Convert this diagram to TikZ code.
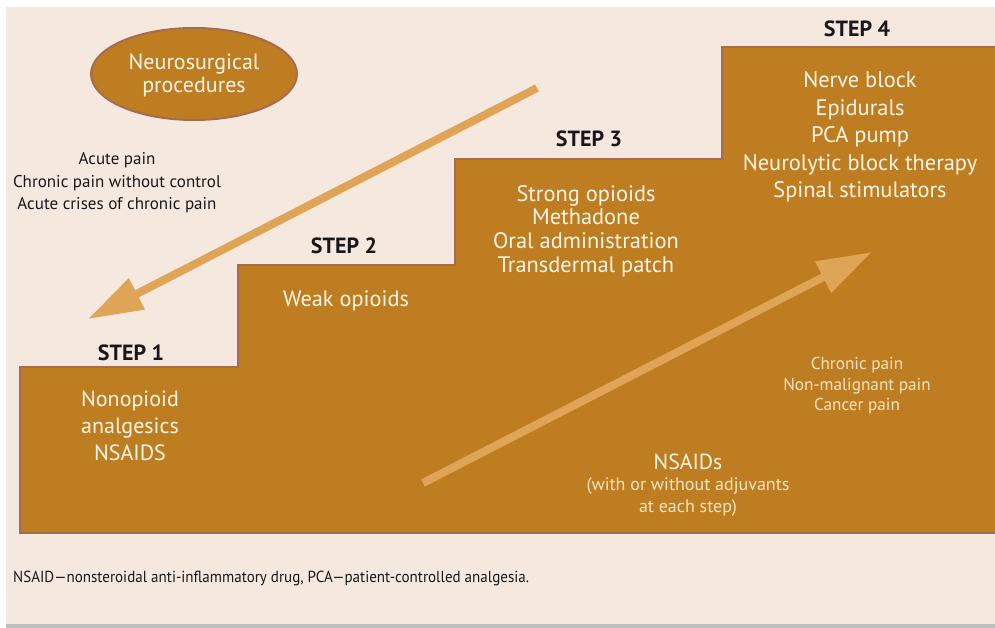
\documentclass[tikz,border=0pt]{standalone}
\usepackage{fontspec}
\setmainfont{PT Sans}
\newfontfamily\footfont[FakeStretch=0.94]{PT Sans}
\usetikzlibrary{arrows.meta,shapes.geometric}
\definecolor{bgcream}{RGB}{245,232,223}
\definecolor{stairbrown}{RGB}{190,125,32}
\definecolor{edgebrown}{RGB}{166,108,82}
\definecolor{arrowor}{RGB}{224,164,86}
\definecolor{lighttxt}{RGB}{253,246,232}
\definecolor{softtxt}{RGB}{247,228,196}
\definecolor{darktxt}{RGB}{24,24,28}
\tikzset{
  x=1pt, y=-1pt,
  boxtxt/.style={text=lighttxt, align=center, inner sep=0pt},
  steplabel/.style={text=darktxt, font=\bfseries\fontsize{22}{24}\selectfont, inner sep=0pt},
  darknote/.style={text=darktxt, align=center, inner sep=0pt, font=\fontsize{17}{22.5}\selectfont},
  bigarrow/.style={draw=arrowor, line width=8pt, -{Triangle[length=55pt,width=33pt]}},
}
\begin{document}
\begin{tikzpicture}
\useasboundingbox (0,0) rectangle (995,628);
\fill[white] (0,0) rectangle (995,628);
\fill[bgcream] (6,7) rectangle (995,624);
\fill[black!25] (6,624) rectangle (995,628);
% staircase
\draw[fill=stairbrown, draw=edgebrown, line width=2.5pt]
  (995,533) -- (20,533) -- (20,367) -- (238,367) -- (238,265) -- (455,265)
  -- (455,159) -- (722,159) -- (722,47) -- (995,47);
% ellipse
\node[ellipse, fill=stairbrown, draw=edgebrown, line width=2pt, minimum width=206pt, minimum height=92pt, inner sep=0pt] (neuro) at (194,74) {};
\node[boxtxt, font=\fontsize{22}{23}\selectfont] (neurotxt) at (194,75) {Neurosurgical\\procedures};
% left note
\node[darknote] (acute) at (117,183) {Acute pain\\Chronic pain without control\\Acute crises of chronic pain};
% step labels
\node[steplabel] (s1) at (131,353) {STEP 1};
\node[steplabel] (s2) at (344,246) {STEP 2};
\node[steplabel] (s3) at (589,139) {STEP 3};
\node[steplabel] (s4) at (857,29) {STEP 4};
% step contents
\node[boxtxt, font=\fontsize{22}{27}\selectfont] (t1) at (130,426) {Nonopioid\\analgesics\\NSAIDS};
\node[boxtxt, font=\fontsize{22.3}{24}\selectfont] (t2) at (346,301) {Weak opioids};
\node[boxtxt, font=\fontsize{22.4}{23.7}\selectfont] (t3) at (586,231) {Strong opioids\\Methadone\\Oral administration\\Transdermal patch};
\node[boxtxt, font=\fontsize{22.4}{27.5}\selectfont] (t4) at (860,137) {Nerve block\\Epidurals\\PCA pump\\Neurolytic block therapy\\Spinal stimulators};
% right notes
\node[boxtxt, text=softtxt, font=\fontsize{17.2}{20.5}\selectfont] (chron) at (857,386) {Chronic pain\\Non-malignant pain\\Cancer pain};
\node[boxtxt, font=\fontsize{21.8}{22}\selectfont] (nsaid) at (688,462) {NSAIDs};
\node[boxtxt, text=softtxt, font=\fontsize{18}{22}\selectfont] (adj) at (688,497) {(with or without adjuvants\\at each step)};
% footnote
\node[anchor=west, text=darktxt, inner sep=0pt, font=\footfont\fontsize{16}{18}\selectfont] (foot) at (13,578) {NSAID—nonsteroidal anti-inflammatory drug, PCA—patient-controlled analgesia.};
% arrows
\coordinate (dstart) at (537,88);
\coordinate (dend) at (88,319);
\coordinate (ustart) at (423,483);
\coordinate (uend) at (872,252);
\draw[bigarrow] (dstart) -- (dend);
\draw[bigarrow] (ustart) -- (uend);
\end{tikzpicture}
\end{document}
